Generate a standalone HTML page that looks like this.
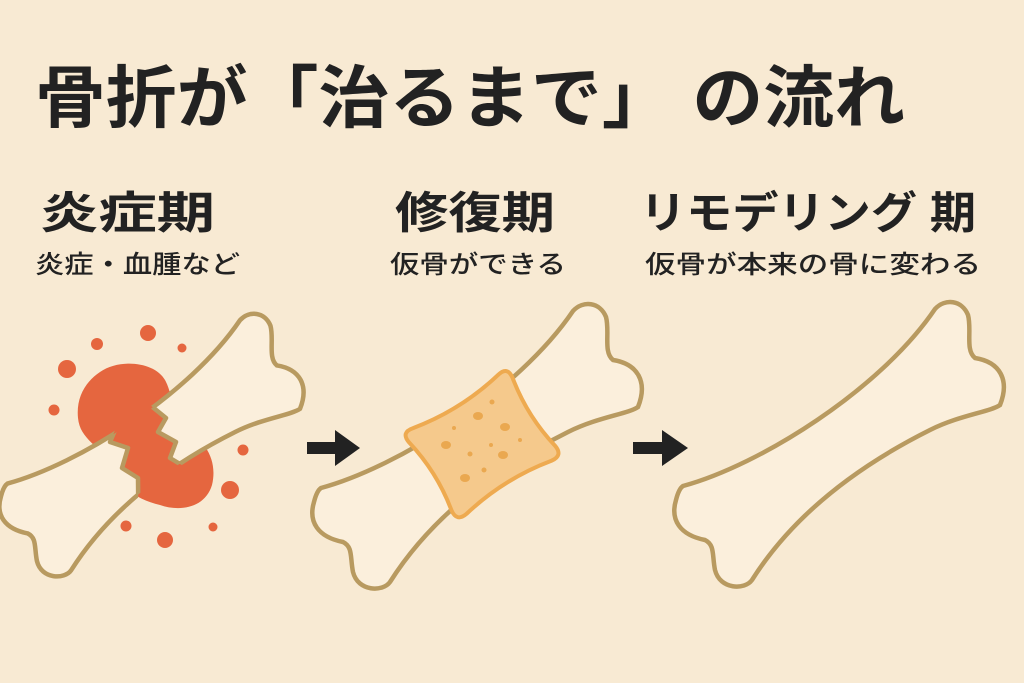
<!DOCTYPE html>
<html><head><meta charset="utf-8"><style>
html,body{margin:0;padding:0;background:#f8ead3;}
svg{display:block}
text{font-family:"Liberation Sans","Noto Sans CJK JP",sans-serif;fill:#222;font-weight:bold}
</style></head><body>
<svg width="1024" height="683" viewBox="0 0 1024 683" xmlns="http://www.w3.org/2000/svg">
<defs>
<path id="bone" d="M 683,486 C 760,465 880,390 935,309 C 945,298 962,300 968,315 C 972,330 965,350 975,358 C 1000,362 1010,380 1000,405 C 990,412 960,415 930,430 C 850,470 790,520 752,580 C 745,590 720,590 715,570 C 712,555 715,545 705,540 C 680,535 670,520 676,500 C 678,492 680,488 683,486 Z"/>
<clipPath id="cl"><path d="M 0,250 L 100,250 L 100,425 L 116,428 L 110,442 L 128,448 L 122,468 L 138,478 L 140,700 L 0,700 Z"/></clipPath>
<clipPath id="cr"><path d="M 160,250 L 160,390 L 150,405 L 166,418 L 158,432 L 176,442 L 170,458 L 190,470 L 200,700 L 400,700 L 400,250 Z"/></clipPath>
<clipPath id="b1"><use href="#bone" transform="translate(-623,35) scale(0.923)"/></clipPath>
</defs>
<rect width="1024" height="683" fill="#f8ead3"/>
<text x="35" y="122" font-size="68" textLength="870" lengthAdjust="spacingAndGlyphs">骨折が「治るまで」 の流れ</text>
<text x="40" y="228" font-size="44" textLength="175" lengthAdjust="spacingAndGlyphs">炎症期</text>
<text x="395" y="228" font-size="44" textLength="160" lengthAdjust="spacingAndGlyphs">修復期</text>
<text x="640" y="228" font-size="44" textLength="336" lengthAdjust="spacingAndGlyphs">リモデリング 期</text>
<text x="35" y="273" font-size="25" style="font-weight:500" textLength="205" lengthAdjust="spacingAndGlyphs">炎症・血腫など</text>
<text x="390" y="273" font-size="25" style="font-weight:500" textLength="176" lengthAdjust="spacingAndGlyphs">仮骨ができる</text>
<text x="645" y="273" font-size="25" style="font-weight:500" textLength="336" lengthAdjust="spacingAndGlyphs">仮骨が本来の骨に変わる</text>

<g fill="#e5663f">
<path d="M 100,372 C 120,358 155,362 165,380 C 175,398 170,420 185,430 C 205,440 218,460 212,485 C 205,508 180,512 160,505 C 140,500 125,492 115,470 C 100,445 80,440 78,418 C 76,398 85,382 100,372 Z"/>
<circle cx="148" cy="333" r="8"/><circle cx="97" cy="344" r="6"/><circle cx="182" cy="348" r="4.5"/>
<circle cx="67" cy="369" r="9"/><circle cx="54" cy="410" r="5.5"/><circle cx="243" cy="450" r="5.5"/>
<circle cx="230" cy="490" r="9"/><circle cx="126" cy="526" r="5.5"/><circle cx="165" cy="540" r="8"/><circle cx="213" cy="527" r="4.5"/>
</g>
<g clip-path="url(#cl)">
<use href="#bone" transform="translate(-623,35) scale(0.923)" fill="#fbefdc" stroke="#b89a60" stroke-width="4.9"/>
</g>
<g clip-path="url(#cr)">
<use href="#bone" transform="translate(-623,35) scale(0.923)" fill="#fbefdc" stroke="#b89a60" stroke-width="4.9"/>
</g>
<g clip-path="url(#b1)" fill="none" stroke="#b89a60" stroke-width="4.5" stroke-linejoin="round">
<path d="M 100,250 L 100,425 L 116,428 L 110,442 L 128,448 L 122,468 L 138,478 L 140,700"/>
<path d="M 160,250 L 160,390 L 150,405 L 166,418 L 158,432 L 176,442 L 170,458 L 190,470 L 200,700"/>
</g>
<path d="M 307,442 L 335,442 L 335,430 L 360,448 L 335,466 L 335,454 L 307,454 Z" fill="#222"/>
<path d="M 633,442 L 662,442 L 662,430 L 688,448 L 662,466 L 662,454 L 633,454 Z" fill="#222"/>
<use href="#bone" transform="translate(-362,2)" fill="#fbefdc" stroke="#b89a60" stroke-width="4.5"/>
<g transform="translate(482,444) rotate(-32)">
<path d="M -50,-50 Q 0,-40 50,-50 Q 63,-53 61,-40 Q 53,0 61,40 Q 63,53 50,51 Q 0,41 -50,51 Q -63,53 -61,40 Q -53,0 -61,-40 Q -63,-53 -50,-50 Z" fill="#f5c98c" stroke="#eeaa50" stroke-width="4"/>
</g>
<g fill="#eaa850">
<ellipse cx="478" cy="416" rx="5" ry="4"/><circle cx="492" cy="402" r="2.5"/><ellipse cx="505" cy="427" rx="5" ry="4"/>
<circle cx="454" cy="428" r="2"/><ellipse cx="446" cy="445" rx="5" ry="4"/><circle cx="470" cy="454" r="2.5"/>
<circle cx="491" cy="445" r="2"/><ellipse cx="503" cy="455" rx="5" ry="4"/><circle cx="520" cy="440" r="2"/>
<ellipse cx="465" cy="478" rx="5" ry="4"/><circle cx="484" cy="470" r="2.5"/>
</g>
<use href="#bone" fill="#fbefdc" stroke="#b89a60" stroke-width="4.5"/>
</svg>
</body></html>
